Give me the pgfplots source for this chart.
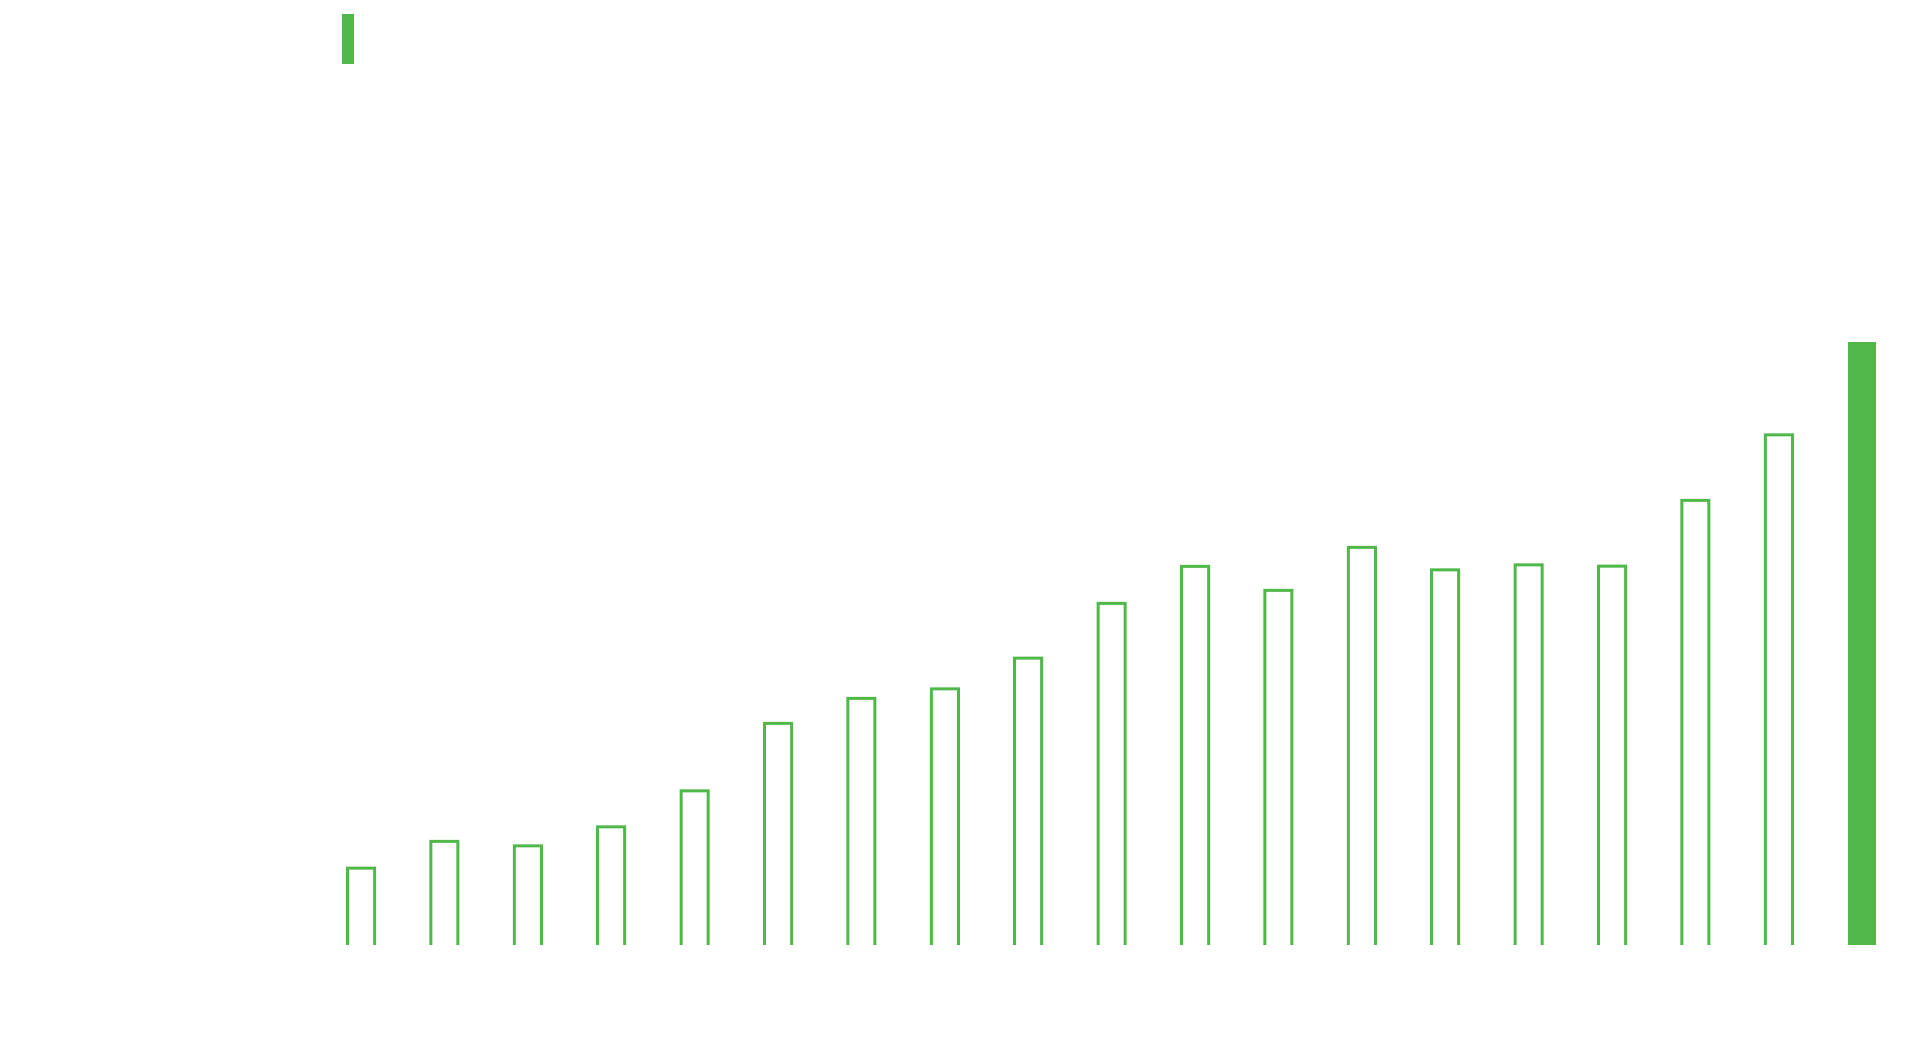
\documentclass[border=0pt]{standalone}
\usepackage{pgfplots}
\usepackage{pgfplotstable}
\pgfplotsset{compat=1.18}
\definecolor{bargreen}{HTML}{4FB848}

% bar heights (arbitrary units)
\pgfplotstableread{
x y
0 78.3
1 105.0
2 100.7
3 119.7
4 155.7
5 223.0
6 248.0
7 257.7
8 288.3
9 343.0
10 380.0
11 356.0
12 399.0
13 376.7
14 381.7
15 380.3
16 446.0
17 511.7
}\outlinebars

\pgfplotstableread{
x y
18 603.3
}\lastbar

\begin{document}
\begin{tikzpicture}
\useasboundingbox (0,0) rectangle (476.25pt,264.5pt);
\begin{axis}[
    at={(79.825pt,28.25pt)},
    anchor=south west,
    scale only axis,
    width=396.15pt,
    height=236.25pt,
    axis lines=none,
    ticks=none,
    xmin=-0.5, xmax=18.5,
    ymin=0, ymax=945,
    legend style={
        at={(0.01414,0.98519)},
        anchor=north west,
        draw=none, fill=none,
        inner sep=0pt, outer sep=0pt,
        nodes={inner sep=0pt, outer sep=0pt},
        column sep=0pt,
    },
    legend image code/.code={
        \fill[bargreen] (0pt,-6.25pt) rectangle (3pt,6.25pt);
    },
]
% outlined bars: green bar with a narrower white bar inside (open at the base)
\addplot[ybar, bar width=7.5pt, draw=none, fill=bargreen, forget plot]
    table[x=x, y=y] {\outlinebars};
\addplot[ybar, bar width=6pt, draw=none, fill=white, forget plot]
    table[x=x, y expr=\thisrow{y}-3] {\outlinebars};
\addplot[ybar, bar width=7pt, draw=none, fill=bargreen]
    table[x=x, y=y] {\lastbar};
\addlegendentry{}
\end{axis}
\end{tikzpicture}
\end{document}
